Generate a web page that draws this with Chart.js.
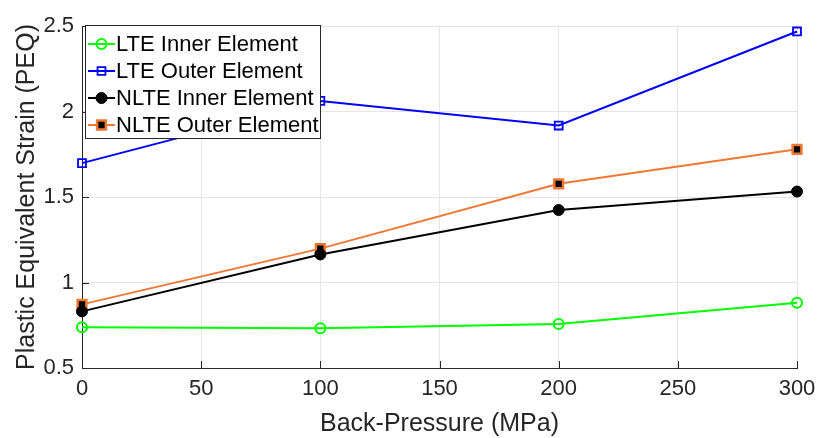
<!DOCTYPE html>
<html>
<head>
<meta charset="utf-8">
<script src="https://cdn.jsdelivr.net/npm/chart.js@4/dist/chart.umd.min.js"></script>
<style>
html,body{margin:0;padding:0;background:#fff;}
#wrap{width:820px;height:438px;position:relative;}
</style>
</head>
<body>
<div id="wrap"><canvas id="c" width="820" height="438"></canvas></div>
<script>
const backPressure = [0, 100, 200, 300];
const lteInner  = [0.738, 0.733, 0.757, 0.882];
const lteOuter  = [1.698, 2.062, 1.918, 2.468];
const nlteInner = [0.831, 1.164, 1.424, 1.532];
const nlteOuter = [0.872, 1.198, 1.577, 1.779];
const seriesLabels = ['LTE Inner Element', 'LTE Outer Element', 'NLTE Inner Element', 'NLTE Outer Element'];
const xTicks = [0, 50, 100, 150, 200, 250, 300];
const yTicks = [0.5, 1, 1.5, 2, 2.5];

const FONT = "'Liberation Sans', Arial, Helvetica, sans-serif";
const ORANGE = 'rgb(240,120,52)';

function pts(vals){ return backPressure.map((x,i)=>({x:x, y:vals[i]})); }

const datasets = [
  {label: seriesLabels[0], data: pts(lteInner), borderColor:'#00ff00', backgroundColor:'#ffffff',
   pointStyle:'circle', pointRadius:5, pointBorderWidth:2, pointBorderColor:'#00ff00', pointBackgroundColor:'rgba(255,255,255,0)'},
  {label: seriesLabels[1], data: pts(lteOuter), borderColor:'#0000ff', backgroundColor:'#ffffff',
   pointStyle:'rect', pointRadius:5.6, pointBorderWidth:1.8, pointBorderColor:'#0000ff', pointBackgroundColor:'rgba(255,255,255,0)'},
  {label: seriesLabels[2], data: pts(nlteInner), borderColor:'#000000', backgroundColor:'#000000',
   pointStyle:'circle', pointRadius:5.5, pointBorderWidth:1, pointBorderColor:'#000000', pointBackgroundColor:'#000000'},
  {label: seriesLabels[3], data: pts(nlteOuter), borderColor:ORANGE, backgroundColor:'#000000',
   pointStyle:'rect', pointRadius:6.2, pointBorderWidth:2.5, pointBorderColor:ORANGE, pointBackgroundColor:'#000000'}
].map(d=>Object.assign({borderWidth:2, tension:0, fill:false, clip:false, pointHoverRadius:d.pointRadius}, d));

const innerTicks = {
  id:'innerTicks',
  beforeDatasetsDraw(chart){
    const ctx = chart.ctx, a = chart.chartArea;
    const xs = chart.scales.x, ys = chart.scales.y;
    ctx.save();
    ctx.strokeStyle = '#262626';
    ctx.lineWidth = 1;
    ctx.beginPath();
    xTicks.forEach(v=>{ const px = Math.round(xs.getPixelForValue(v))+0.5; ctx.moveTo(px, a.bottom); ctx.lineTo(px, a.bottom-7); });
    yTicks.forEach(v=>{ const py = Math.round(ys.getPixelForValue(v))+0.5; ctx.moveTo(a.left, py); ctx.lineTo(a.left+7, py); });
    ctx.stroke();
    ctx.restore();
  }
};

const legendBox = {
  id:'legendBox',
  afterDraw(chart){
    const ctx = chart.ctx;
    const x0 = 85.5, y0 = 25.5, w = 235, h = 113;
    ctx.save();
    ctx.fillStyle = '#ffffff';
    ctx.fillRect(x0, y0, w, h);
    ctx.strokeStyle = '#262626';
    ctx.lineWidth = 1;
    ctx.strokeRect(x0, y0, w, h);
    ctx.font = '22px ' + FONT;
    ctx.textBaseline = 'middle';
    ctx.textAlign = 'left';
    chart.data.datasets.forEach((ds,i)=>{
      const cy = 44 + i*27;
      ctx.strokeStyle = ds.borderColor;
      ctx.lineWidth = 2;
      ctx.beginPath(); ctx.moveTo(88, cy); ctx.lineTo(115, cy); ctx.stroke();
      ctx.lineWidth = ds.pointBorderWidth;
      ctx.strokeStyle = ds.pointBorderColor;
      ctx.fillStyle = ds.pointBackgroundColor;
      Chart.helpers.drawPoint(ctx, {pointStyle: ds.pointStyle, radius: ds.pointRadius, rotation:0, borderWidth: ds.pointBorderWidth}, 101.5, cy);
      ctx.fillStyle = '#000000';
      ctx.fillText(ds.label, 116, cy+1);
    });
    ctx.restore();
  }
};

new Chart(document.getElementById('c'), {
  type:'line',
  data:{datasets:datasets},
  plugins:[innerTicks, legendBox],
  options:{
    responsive:false,
    animation:false,
    events:[],
    layout:{padding:{left:0, right:23, top:26, bottom:0}},
    plugins:{legend:{display:false}, tooltip:{enabled:false}, title:{display:false}},
    scales:{
      x:{
        type:'linear', min:0, max:300,
        afterBuildTicks(s){ s.ticks = xTicks.map(v=>({value:v})); },
        afterFit(s){ s.height = 70; s.paddingRight = 0; s.paddingLeft = 0; },
        grid:{color:'#e5e5e5', lineWidth:1, drawTicks:false},
        border:{color:'#262626', width:1},
        ticks:{color:'#262626', font:{family:FONT, size:22}, padding:8, maxRotation:0, autoSkip:false},
        title:{display:true, text:'Back-Pressure (MPa)', color:'#262626', font:{family:FONT, size:25, lineHeight:1.1}, padding:{top:0, bottom:0}}
      },
      y:{
        type:'linear', min:0.5, max:2.5,
        afterBuildTicks(s){ s.ticks = yTicks.map(v=>({value:v})); },
        afterFit(s){ s.width = 82; s.paddingTop = 0; s.paddingBottom = 0; },
        grid:{color:'#e5e5e5', lineWidth:1, drawTicks:false},
        border:{color:'#262626', width:1},
        ticks:{color:'#262626', font:{family:FONT, size:22}, padding:8, callback:v=>String(v)},
        title:{display:true, text:'Plastic Equivalent Strain (PEQ)', color:'#262626', font:{family:FONT, size:25, lineHeight:1.2}, padding:{top:12, bottom:0}}
      }
    }
  }
});
</script>
</body>
</html>
